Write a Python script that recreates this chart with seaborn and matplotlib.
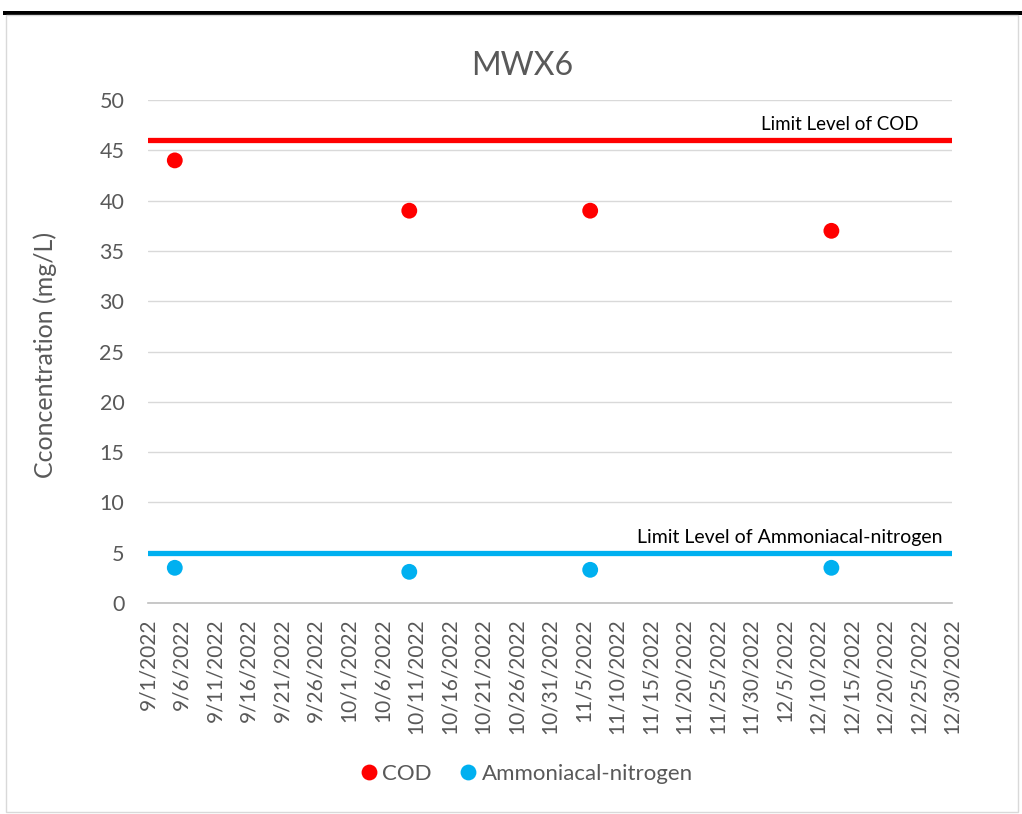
import pandas as pd
import matplotlib.pyplot as plt
import matplotlib.dates as mdates
from matplotlib.patches import Rectangle
import seaborn as sns

# data
sample_dates = ['2022-09-05', '2022-10-10', '2022-11-06', '2022-12-12']
cod = [44, 39, 39, 37]
ammonia = [3.5, 3.1, 3.3, 3.5]
cod_limit = 46
ammonia_limit = 5
tick_dates = pd.date_range('2022-09-01', '2022-12-30', freq='5D')

df = pd.DataFrame({
    'Date': pd.to_datetime(sample_dates * 2),
    'Value': cod + ammonia,
    'Parameter': ['COD'] * 4 + ['Ammoniacal-nitrogen'] * 4,
})

sns.set_style('white')
plt.rcParams['font.family'] = ['Lato', 'DejaVu Sans']

fig = plt.figure(figsize=(10.22, 8.14), dpi=100)
ax = fig.add_axes([0.1448, 0.2592, 0.7867, 0.6179])

# outer frame like the excel chart area
fig.patches.append(Rectangle((0.003, 0.982), 0.997, 0.005, transform=fig.transFigure,
                             facecolor='black', edgecolor='none'))
fig.patches.append(Rectangle((0.006, 0.003), 0.99, 0.978, transform=fig.transFigure,
                             facecolor='none', edgecolor='#d9d9d9', linewidth=1))

palette = {'COD': '#ff0000', 'Ammoniacal-nitrogen': '#00b0f0'}

ax.axhline(cod_limit, color='#ff0000', linewidth=3.8, solid_capstyle='round', zorder=2)
ax.axhline(ammonia_limit, color='#00b0f0', linewidth=3.8, solid_capstyle='round', zorder=2)

sns.scatterplot(data=df, x='Date', y='Value', hue='Parameter', palette=palette,
                s=130, edgecolor='none', ax=ax, zorder=3)

ax.set_ylim(0, 50)
ax.set_yticks(range(0, 51, 5))
ax.set_xlim(tick_dates[0], tick_dates[-1])
ax.set_xticks(tick_dates)
ax.xaxis.set_major_formatter(plt.FuncFormatter(
    lambda v, p: '{d.month}/{d.day}/{d.year}'.format(d=mdates.num2date(v))))
ax.tick_params(axis='x', rotation=90, labelsize=15, colors='#595959', length=0, pad=11)
ax.tick_params(axis='y', labelsize=15.5, colors='#595959', length=0, pad=17)

ax.grid(axis='y', color='#d9d9d9', linewidth=1)
ax.set_axisbelow(True)
for side in ['left', 'right', 'top']:
    ax.spines[side].set_visible(False)
ax.spines['bottom'].set_color('#bfbfbf')
ax.spines['bottom'].set_linewidth(1.2)

ax.set_xlabel('')
ax.set_ylabel('')
fig.text(45 / 1022, 1 - 355 / 814, 'Cconcentration (mg/L)', rotation=90,
         ha='center', va='center', fontsize=18, color='#595959')
fig.text(522 / 1022, 1 - 75 / 814, 'MWX6', ha='center', va='baseline',
         fontsize=23, color='#595959')

ax.text(0.958, cod_limit + 0.7, 'Limit Level of COD', transform=ax.get_yaxis_transform(),
        ha='right', va='bottom', fontsize=13.5, color='black')
ax.text(0.988, ammonia_limit + 0.7, 'Limit Level of Ammoniacal-nitrogen',
        transform=ax.get_yaxis_transform(), ha='right', va='bottom', fontsize=14, color='black')

handles, labels = ax.get_legend_handles_labels()
fig.legend(handles, labels, loc='center', bbox_to_anchor=(527 / 1022, 1 - 774 / 814), ncol=2,
           frameon=False, fontsize=16, labelcolor='#595959', handlelength=0.7,
           handletextpad=0.25, columnspacing=1.3, markerscale=1.0)
ax.get_legend().remove()

fig.savefig('out.png', dpi=100)
